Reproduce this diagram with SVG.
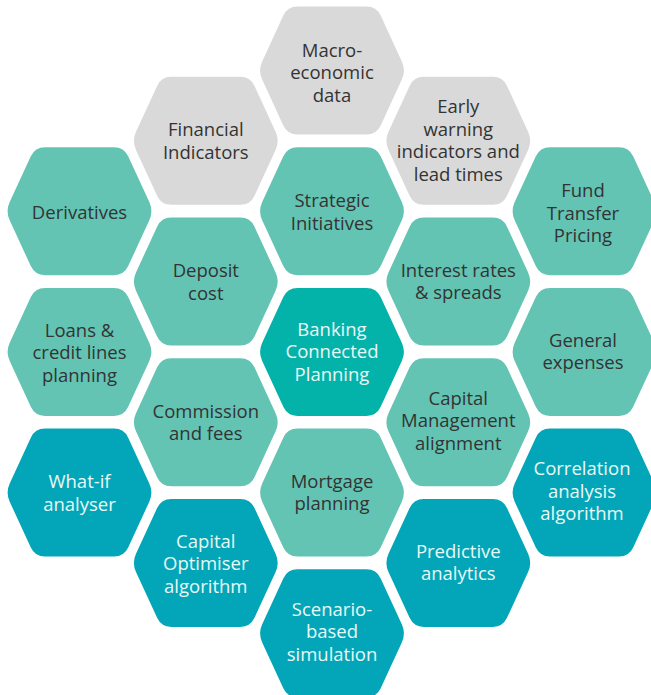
<svg xmlns="http://www.w3.org/2000/svg" xmlns:xlink="http://www.w3.org/1999/xlink" width="651" height="695" viewBox="0 0 651 695">
  <defs>
    <!-- rounded hexagon centred on the origin (pointed left/right, flat top/bottom) -->
    <path id="hex" d="M69.81,9.08 L48.69,54.92 Q44.5,64 34.5,64 L-34.5,64 Q-44.5,64 -48.69,54.92 L-69.81,9.08 Q-74,0 -69.81,-9.08 L-48.69,-54.92 Q-44.5,-64 -34.5,-64 L34.5,-64 Q44.5,-64 48.69,-54.92 L69.81,-9.08 Q74,0 69.81,9.08 Z"/>
  </defs>
  <style>
    .grey { fill: #d9d9d9; }
    .mint { fill: #63c4b3; }
    .core { fill: #03b3aa; }
    .blue { fill: #02a6b8; }
    text { font-family: "Open Sans", "Noto Sans", "Liberation Sans", sans-serif; font-size: 18.5px; text-anchor: middle; }
    .dark { fill: #333333; }
    .light { fill: #eaf8f6; }
  </style>
  <rect width="651" height="695" fill="#ffffff"/>

  <g id="connectors"/>

  <!-- column 1 -->
  <g id="derivatives">
    <use xlink:href="#hex" href="#hex" class="mint" transform="translate(79.5,211.2)"/>
    <text class="dark" x="79.5" y="218.5">Derivatives</text>
  </g>
  <g id="loans">
    <use xlink:href="#hex" href="#hex" class="mint" transform="translate(79.5,351.9)"/>
    <text class="dark" x="79.5" y="336.5">Loans &amp;</text>
    <text class="dark" x="79.5" y="359">credit lines</text>
    <text class="dark" x="79.5" y="381.5">planning</text>
  </g>
  <g id="what-if">
    <use xlink:href="#hex" href="#hex" class="blue" transform="translate(79.5,492.6)"/>
    <text class="light" x="79.5" y="488">What-if</text>
    <text class="light" x="79.5" y="510.5">analyser</text>
  </g>

  <!-- column 2 -->
  <g id="financial-indicators">
    <use xlink:href="#hex" href="#hex" class="grey" transform="translate(205.8,140.85)"/>
    <text class="dark" x="205.8" y="136">Financial</text>
    <text class="dark" x="205.8" y="158.5">Indicators</text>
  </g>
  <g id="deposit-cost">
    <use xlink:href="#hex" href="#hex" class="mint" transform="translate(205.8,281.55)"/>
    <text class="dark" x="205.8" y="277">Deposit</text>
    <text class="dark" x="205.8" y="299.5">cost</text>
  </g>
  <g id="commission">
    <use xlink:href="#hex" href="#hex" class="mint" transform="translate(205.8,422.25)"/>
    <text class="dark" x="205.8" y="417.5">Commission</text>
    <text class="dark" x="205.8" y="440">and fees</text>
  </g>
  <g id="capital-optimiser">
    <use xlink:href="#hex" href="#hex" class="blue" transform="translate(205.8,562.95)"/>
    <text class="light" x="205.8" y="547.5">Capital</text>
    <text class="light" x="205.8" y="570">Optimiser</text>
    <text class="light" x="205.8" y="592.5">algorithm</text>
  </g>

  <!-- column 3 -->
  <g id="macro-economic">
    <use xlink:href="#hex" href="#hex" class="grey" transform="translate(332,70.5)"/>
    <text class="dark" x="332" y="56.5">Macro-</text>
    <text class="dark" x="332" y="79">economic</text>
    <text class="dark" x="332" y="101.5">data</text>
  </g>
  <g id="strategic-initiatives">
    <use xlink:href="#hex" href="#hex" class="mint" transform="translate(332,211.2)"/>
    <text class="dark" x="332" y="207">Strategic</text>
    <text class="dark" x="332" y="229.5">Initiatives</text>
  </g>
  <g id="banking-connected-planning">
    <use xlink:href="#hex" href="#hex" class="core" transform="translate(332,351.9)"/>
    <text class="light" x="332" y="335.5">Banking</text>
    <text class="light" x="332" y="358">Connected</text>
    <text class="light" x="332" y="380.5">Planning</text>
  </g>
  <g id="mortgage">
    <use xlink:href="#hex" href="#hex" class="mint" transform="translate(332,492.6)"/>
    <text class="dark" x="332" y="487.5">Mortgage</text>
    <text class="dark" x="332" y="510">planning</text>
  </g>
  <g id="scenario">
    <use xlink:href="#hex" href="#hex" class="blue" transform="translate(332,633.3)"/>
    <text class="light" x="332" y="615.5">Scenario-</text>
    <text class="light" x="332" y="638">based</text>
    <text class="light" x="332" y="660.5">simulation</text>
  </g>

  <!-- column 4 -->
  <g id="early-warning">
    <use xlink:href="#hex" href="#hex" class="grey" transform="translate(458.3,140.85)"/>
    <text class="dark" x="458.3" y="113">Early</text>
    <text class="dark" x="458.3" y="135.5">warning</text>
    <text class="dark" x="458.3" y="158">indicators and</text>
    <text class="dark" x="458.3" y="180.5">lead times</text>
  </g>
  <g id="interest-rates">
    <use xlink:href="#hex" href="#hex" class="mint" transform="translate(458.3,281.55)"/>
    <text class="dark" x="458.3" y="276.5">Interest rates</text>
    <text class="dark" x="458.3" y="299">&amp; spreads</text>
  </g>
  <g id="capital-management">
    <use xlink:href="#hex" href="#hex" class="mint" transform="translate(458.3,422.25)"/>
    <text class="dark" x="458.3" y="404.5">Capital</text>
    <text class="dark" x="458.3" y="427">Management</text>
    <text class="dark" x="458.3" y="449.5">alignment</text>
  </g>
  <g id="predictive">
    <use xlink:href="#hex" href="#hex" class="blue" transform="translate(458.3,562.95)"/>
    <text class="light" x="458.3" y="557.5">Predictive</text>
    <text class="light" x="458.3" y="580">analytics</text>
  </g>

  <!-- column 5 -->
  <g id="fund-transfer-pricing">
    <use xlink:href="#hex" href="#hex" class="mint" transform="translate(584.5,211.2)"/>
    <text class="dark" x="583" y="197">Fund</text>
    <text class="dark" x="583" y="219.5">Transfer</text>
    <text class="dark" x="583" y="242">Pricing</text>
  </g>
  <g id="general-expenses">
    <use xlink:href="#hex" href="#hex" class="mint" transform="translate(584.5,351.9)"/>
    <text class="dark" x="583" y="346.5">General</text>
    <text class="dark" x="583" y="369">expenses</text>
  </g>
  <g id="correlation">
    <use xlink:href="#hex" href="#hex" class="blue" transform="translate(584.5,492.6)"/>
    <text class="light" x="582" y="475">Correlation</text>
    <text class="light" x="582" y="497.5">analysis</text>
    <text class="light" x="582" y="520">algorithm</text>
  </g>
</svg>
